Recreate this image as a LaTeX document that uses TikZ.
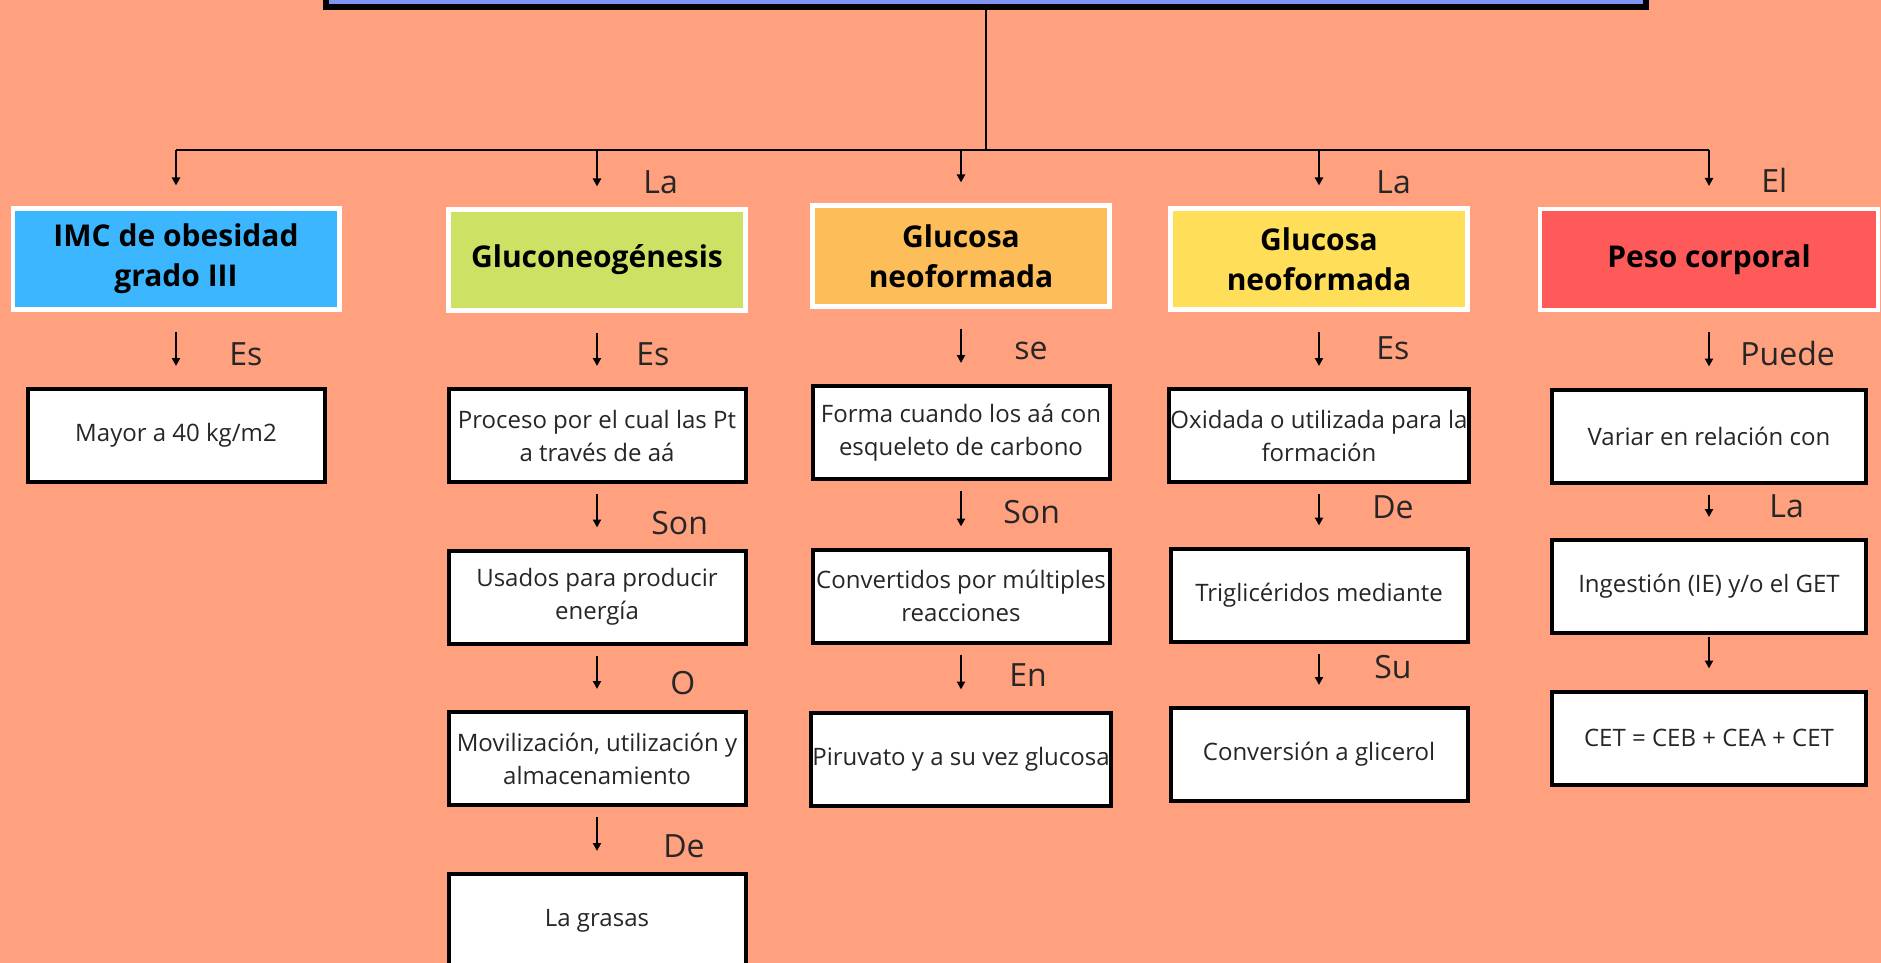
\documentclass[tikz,border=0pt]{standalone}
\usepackage{fontspec}
\setmainfont{Open Sans}
\usetikzlibrary{arrows.meta}
\definecolor{fondo}{HTML}{FFA07E}
\definecolor{tituloazul}{HTML}{8294F2}
\definecolor{celeste}{HTML}{3BB6FF}
\definecolor{lima}{HTML}{CDE264}
\definecolor{naranjo}{HTML}{FDBD58}
\definecolor{amarillo}{HTML}{FFDE59}
\definecolor{rojo}{HTML}{FF5A5A}
\definecolor{texto}{HTML}{262626}
\tikzset{
  titulo/.style={draw=black, fill=tituloazul, line width=3pt, minimum width=660pt, minimum height=57pt},
  cabeza/.style={draw=white, line width=2.2pt, minimum width=148.5pt, minimum height=50.3pt, align=center, inner sep=1pt, font=\fontsize{15}{20}\selectfont\bfseries},
  concepto/.style={draw=black, fill=white, line width=2pt, minimum width=148.5pt, minimum height=46.5pt, align=center, inner sep=0.5pt, text=texto, font=\fontsize{12}{16.5}\selectfont},
  enlace/.style={anchor=base west, inner sep=0pt, text=texto, font=\fontsize{16}{16}\selectfont},
  linea/.style={line width=1pt},
  flecha/.style={-{Triangle[length=4pt,width=4pt]}, line width=1pt, shorten <=5pt, shorten >=10.5pt},
}
\begin{document}
\begin{tikzpicture}[x=0.5pt,y=-0.5pt]
  \useasboundingbox (0,0) rectangle (1881,963);
  \fill[fondo] (0,0) rectangle (1881,963);
  \node[titulo] (titulo) at (986,-50) {};
  \coordinate (barra) at (986,150);

  \node[cabeza, fill=celeste, minimum width=163.3pt] (imc) at (176,259) {IMC de obesidad\\grado III};
  \node[cabeza, fill=lima] (gluco) at (597,260) {Gluconeogénesis};
  \node[cabeza, fill=naranjo] (naranja) at (961,256) {Glucosa\\neoformada};
  \node[cabeza, fill=amarillo] (amarilla) at (1319,259) {Glucosa\\neoformada};
  \node[cabeza, fill=rojo, minimum width=168.8pt] (peso) at (1709,259.5) {Peso corporal};

  \node[concepto] (m1) at (176,435.5) {Mayor a 40 kg/m2};

  \node[concepto] (g1) at (597,435.5) {Proceso por el cual las Pt\\a través de aá};
  \node[concepto] (g2) at (597,597) {Usados para producir\\energía};
  \node[concepto] (g3) at (597,758.5) {Movilización, utilización y\\almacenamiento};
  \node[concepto] (g4) at (597,920.5) {La grasas};

  \node[concepto] (n1) at (961,432.5) {Forma cuando los aá con\\esqueleto de carbono};
  \node[concepto] (n2) at (961,596) {Convertidos por múltiples\\reacciones};
  \node[concepto] (n3) at (961,759) {Piruvato y a su vez glucosa};

  \node[concepto] (a1) at (1319,435.5) {Oxidada o utilizada para la\\formación};
  \node[concepto] (a2) at (1319,595) {Triglicéridos mediante};
  \node[concepto] (a3) at (1319,754.5) {Conversión a glicerol};

  \node[concepto, minimum width=157pt] (p1) at (1709,436) {Variar en relación con};
  \node[concepto, minimum width=157pt] (p2) at (1709,586.5) {Ingestión (IE) y/o el GET};
  \node[concepto, minimum width=157pt] (p3) at (1709,738) {CET = CEB + CEA + CET};

  \draw[linea] (titulo.south) -- (barra);
  \draw[linea] (imc |- barra) -- (peso |- barra);
  \foreach \n in {imc,gluco,naranja,amarilla,peso}
    \draw[flecha, shorten <=0pt] (\n |- barra) -- (\n);

  \draw[flecha, shorten <=10pt] (imc) -- (m1);
  \draw[flecha, shorten <=10pt] (gluco) -- (g1);
  \draw[flecha] (g1) -- (g2);
  \draw[flecha] (g2) -- (g3);
  \draw[flecha] (g3) -- (g4);
  \draw[flecha, shorten <=10pt] (naranja) -- (n1);
  \draw[flecha] (n1) -- (n2);
  \draw[flecha] (n2) -- (n3);
  \draw[flecha, shorten <=10pt] (amarilla) -- (a1);
  \draw[flecha] (a1) -- (a2);
  \draw[flecha] (a2) -- (a3);
  \draw[flecha, shorten <=10pt] (peso) -- (p1);
  \draw[flecha] (p1) -- (p2);
  \draw[flecha, shorten <=1pt] (p2) -- (p3);

  \node[enlace] (lgluco) at (643,193) {La};
  \node[enlace] (lamarilla) at (1376,193) {La};
  \node[enlace] (lpeso) at (1761,192) {El};
  \node[enlace] (lm1) at (229,365) {Es};
  \node[enlace] (lg1) at (636,365) {Es};
  \node[enlace] (ln1) at (1014,359) {se};
  \node[enlace] (la1) at (1376,359) {Es};
  \node[enlace] (lp1) at (1740,365) {Puede};
  \node[enlace] (lg2) at (651,534) {Son};
  \node[enlace] (ln2) at (1003,523) {Son};
  \node[enlace] (la2) at (1372,518) {De};
  \node[enlace] (lp2) at (1769,517) {La};
  \node[enlace] (lg3) at (670,694) {O};
  \node[enlace] (ln3) at (1009,686) {En};
  \node[enlace] (la3) at (1374,678) {Su};
  \node[enlace] (lg4) at (663,857) {De};
\end{tikzpicture}
\end{document}
